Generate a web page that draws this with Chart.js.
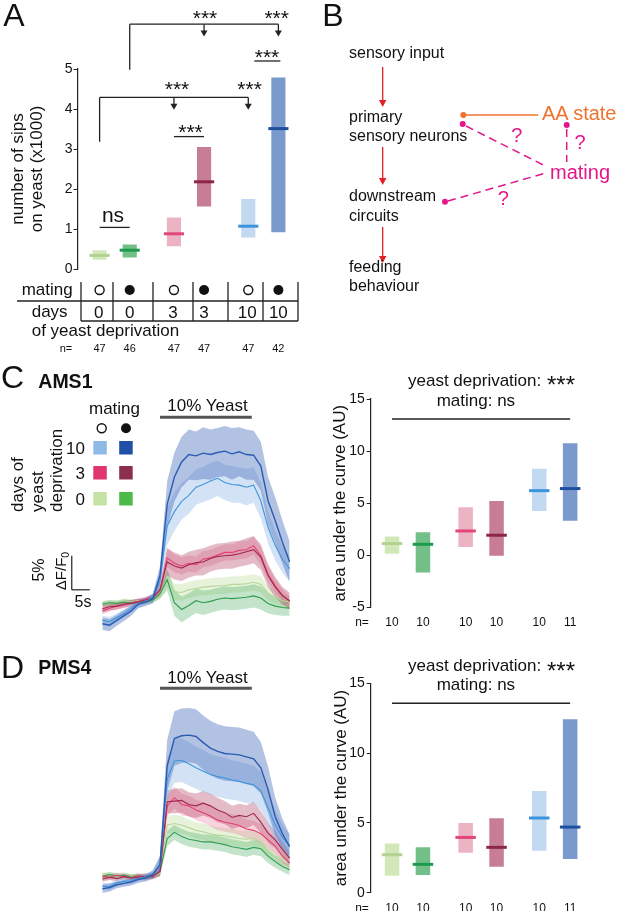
<!DOCTYPE html>
<html>
<head>
<meta charset="utf-8">
<script src="https://cdn.jsdelivr.net/npm/chart.js@4.4.1/dist/chart.umd.min.js"></script>
<style>
    html, body { margin: 0; padding: 0; background: #fff; }
    body { position: relative; width: 617px; height: 911px; overflow: hidden; font-family: 'Liberation Sans', Arial, sans-serif; color: #111; }
    .box { position: absolute; }
    .lbl { position: absolute; white-space: nowrap; line-height: 1; }
    svg { position: absolute; left: 0; top: 0; }
    sub { font-size: 0.7em; vertical-align: -0.3em; line-height: 0; }
</style>
</head>
<body>
<div class="box" style="left:0;top:0;width:310px;height:280px"><canvas id="chartA"></canvas></div>
<div class="box" style="left:66px;top:409px;width:224px;height:226px"><canvas id="tracesC"></canvas></div>
<div class="box" style="left:320px;top:370px;width:290px;height:260px"><canvas id="aucC"></canvas></div>
<div class="box" style="left:66px;top:680px;width:224px;height:219px"><canvas id="tracesD"></canvas></div>
<div class="box" style="left:320px;top:655px;width:290px;height:256px"><canvas id="aucD"></canvas></div>
<svg width="617" height="911" id="overlay"></svg>
<script>
// groups: days of yeast deprivation, virgin (open circle) vs mated (filled)
const days = ['0', '3', '10']

// A: number of sips on yeast (x1000)
const sipsVirginLow = [0.23, 0.57, 0.79]
const sipsVirginHigh = [0.47, 1.29, 1.75]
const sipsVirginMed = [0.34, 0.88, 1.07]
const sipsMatedLow = [0.29, 1.56, 0.92]
const sipsMatedHigh = [0.61, 3.05, 4.79]
const sipsMatedMed = [0.47, 2.18, 3.51]
const nSipsVirgin = [47, 47, 47]
const nSipsMated = [46, 47, 42]

// C: AMS1 area under the curve
const aucAmsVirginLow = [0.13, 0.8, 4.25]
const aucAmsVirginHigh = [1.8, 4.6, 8.3]
const aucAmsVirginMed = [1.12, 2.33, 6.2]
const aucAmsMatedLow = [-1.66, -0.06, 3.3]
const aucAmsMatedHigh = [2.2, 5.2, 10.75]
const aucAmsMatedMed = [1.05, 1.92, 6.4]
const nAmsVirgin = [10, 10, 10]
const nAmsMated = [10, 10, 11]

// D: PMS4 area under the curve
const aucPmsVirginLow = [1.22, 2.87, 3.01]
const aucPmsVirginHigh = [3.53, 4.99, 7.28]
const aucPmsVirginMed = [2.72, 3.96, 5.35]
const aucPmsMatedLow = [1.27, 1.86, 2.41]
const aucPmsMatedHigh = [3.25, 5.33, 12.42]
const aucPmsMatedMed = [2.03, 3.25, 4.7]
const nPmsVirgin = [10, 10, 10]
const nPmsMated = [10, 10, 11]

// traces: time (s, 0 = yeast on), dF/F0 (%) mean and sem
const time = [-16, -14, -12, -10, -8, -6, -4, -2, 0, 2, 4, 6, 8, 10, 12, 14, 16, 18, 20, 22, 24, 26, 28, 30, 32, 34, 36]
const stimulus = [0, 25.5]

const amsLightBlue = [-3.0, -3.2, -2.6, -2.0, -1.2, -0.6, -0.2, 0.4, 2.8, 10.9, 13.0, 14.5, 15.4, 16.6, 17.0, 17.5, 17.9, 17.3, 17.0, 16.9, 16.6, 16.9, 14.6, 10.7, 8.0, 6.0, 4.6]
const amsLightBlueSem = [0.7, 0.7, 0.6, 0.6, 0.6, 0.5, 0.5, 0.6, 1.2, 2.8, 2.8, 2.7, 2.7, 2.6, 2.6, 2.7, 2.6, 2.6, 2.7, 2.6, 2.7, 2.6, 2.6, 2.4, 2.2, 2.0, 1.9]
const amsBlue = [-3.5, -3.7, -3.0, -2.3, -1.6, -0.6, -0.3, 0.2, 3.6, 14.1, 18.1, 20.3, 21.4, 21.2, 21.6, 21.4, 21.7, 21.9, 21.5, 21.8, 21.4, 21.3, 19.7, 14.6, 11.7, 8.5, 5.6]
const amsBlueSem = [0.9, 0.9, 0.8, 0.8, 0.7, 0.6, 0.6, 0.7, 1.4, 3.4, 3.6, 3.7, 3.7, 3.6, 3.8, 3.7, 3.6, 3.7, 3.8, 3.6, 3.7, 3.6, 3.6, 3.5, 3.4, 3.2, 3.0]
const amsPink = [-1.6, -1.2, -0.9, -0.8, -0.4, -0.2, 0.1, 0.4, 1.5, 6.2, 5.4, 5.0, 5.4, 5.2, 6.0, 6.2, 6.6, 7.0, 7.0, 7.3, 7.4, 8.0, 6.5, 3.8, 2.1, 0.7, -0.2]
const amsPinkSem = [0.5, 0.5, 0.5, 0.4, 0.4, 0.4, 0.4, 0.4, 0.8, 1.4, 1.3, 1.3, 1.2, 1.2, 1.2, 1.2, 1.2, 1.2, 1.2, 1.3, 1.3, 1.3, 1.3, 1.2, 1.0, 0.9, 0.8]
const amsDarkRed = [-1.3, -1.0, -0.9, -0.6, -0.5, -0.3, 0.0, 0.3, 1.5, 5.6, 5.0, 4.7, 5.2, 5.5, 5.6, 6.1, 6.4, 6.5, 6.6, 6.8, 7.1, 7.4, 6.3, 3.6, 1.9, 0.6, -0.1]
const amsDarkRedSem = [0.6, 0.6, 0.5, 0.5, 0.5, 0.5, 0.4, 0.5, 0.9, 2.0, 2.0, 1.9, 1.9, 1.9, 2.0, 1.9, 1.9, 1.9, 2.0, 1.9, 2.0, 2.0, 1.9, 1.7, 1.5, 1.3, 1.2]
const amsLightGreen = [-0.6, -0.5, -0.4, -0.2, -0.3, -0.1, -0.2, 0.0, 0.8, 3.1, 1.2, 1.1, 1.5, 1.7, 1.9, 2.0, 2.1, 2.1, 2.3, 2.3, 2.4, 2.6, 2.3, 1.0, 0.4, -0.1, -0.3]
const amsLightGreenSem = [0.4, 0.4, 0.4, 0.4, 0.4, 0.3, 0.3, 0.4, 0.6, 1.2, 1.2, 1.2, 1.2, 1.2, 1.2, 1.2, 1.2, 1.2, 1.2, 1.2, 1.2, 1.2, 1.2, 1.1, 1.0, 0.9, 0.9]
const amsGreen = [-0.6, -0.4, -0.5, -0.3, -0.4, -0.2, -0.3, 0.0, 0.9, 3.0, -0.4, -1.4, -0.8, -0.1, -0.4, -0.2, 0.1, 0.3, 0.2, 0.3, 0.4, 0.6, 0.3, -0.5, -0.9, -1.1, -1.2]
const amsGreenSem = [0.4, 0.4, 0.4, 0.4, 0.4, 0.4, 0.3, 0.4, 0.7, 1.6, 1.9, 1.9, 1.8, 1.8, 1.8, 1.7, 1.7, 1.7, 1.7, 1.7, 1.7, 1.7, 1.7, 1.5, 1.3, 1.2, 1.1]

const pmsLightBlue = [-1.2, -1.3, -0.7, -0.5, -0.4, -0.1, 0.2, 0.6, 1.8, 14.5, 17.2, 17.3, 16.8, 16.2, 15.7, 15.2, 14.9, 14.7, 14.4, 14.2, 13.9, 13.7, 12.8, 10.3, 7.8, 6.0, 4.8]
const pmsLightBlueSem = [0.5, 0.5, 0.5, 0.5, 0.4, 0.4, 0.4, 0.5, 1.2, 3.0, 3.2, 3.2, 3.2, 3.1, 3.1, 3.0, 3.0, 3.0, 2.9, 2.9, 2.9, 2.8, 2.8, 2.5, 2.2, 1.9, 1.6]
const pmsBlue = [-1.6, -1.4, -1.0, -0.8, -0.6, -0.2, 0.0, 0.5, 2.0, 16.5, 20.5, 20.9, 21.0, 20.8, 19.9, 19.1, 18.6, 18.3, 18.2, 18.1, 17.8, 17.5, 16.2, 13.0, 9.0, 6.5, 4.6]
const pmsBlueSem = [0.6, 0.6, 0.5, 0.5, 0.5, 0.5, 0.5, 0.6, 1.3, 3.8, 4.0, 4.0, 4.0, 4.0, 4.0, 4.0, 4.0, 4.0, 4.0, 4.0, 4.0, 4.0, 3.8, 3.4, 2.8, 2.2, 1.8]
const pmsPink = [0.3, 0.1, 0.4, 0.2, 0.0, 0.3, 0.1, 0.3, 1.0, 10.6, 11.8, 10.8, 10.6, 10.0, 9.6, 9.1, 8.5, 8.2, 8.0, 7.7, 7.2, 7.0, 6.5, 5.6, 4.7, 3.2, 2.2]
const pmsPinkSem = [0.4, 0.4, 0.4, 0.4, 0.4, 0.4, 0.4, 0.4, 0.7, 1.6, 1.6, 1.6, 1.5, 1.5, 1.5, 1.5, 1.5, 1.4, 1.4, 1.4, 1.4, 1.4, 1.4, 1.3, 1.2, 1.0, 0.9]
const pmsDarkRed = [-0.2, 0.1, -0.1, 0.2, 0.0, 0.1, 0.3, 0.2, 1.0, 11.2, 11.3, 11.4, 10.8, 10.6, 11.0, 10.6, 10.0, 9.6, 8.9, 9.2, 9.0, 9.5, 8.2, 6.6, 5.6, 4.2, 2.9]
const pmsDarkRedSem = [0.4, 0.4, 0.4, 0.4, 0.4, 0.4, 0.4, 0.4, 0.7, 1.7, 1.8, 1.8, 1.8, 1.8, 1.8, 1.8, 1.8, 1.7, 1.7, 1.7, 1.7, 1.7, 1.6, 1.5, 1.3, 1.1, 1.0]
const pmsLightGreen = [0.5, 0.3, 0.2, 0.0, 0.3, 0.1, 0.3, 0.2, 0.8, 7.8, 8.0, 7.8, 7.4, 7.0, 6.8, 6.5, 6.3, 6.2, 6.0, 5.8, 5.7, 5.9, 5.2, 4.0, 3.2, 2.8, 2.4]
const pmsLightGreenSem = [0.4, 0.4, 0.4, 0.4, 0.4, 0.4, 0.4, 0.4, 0.6, 1.3, 1.3, 1.3, 1.2, 1.2, 1.2, 1.2, 1.2, 1.2, 1.2, 1.2, 1.2, 1.2, 1.1, 1.0, 0.9, 0.9, 0.8]
const pmsGreen = [0.2, 0.5, 0.3, 0.4, 0.1, 0.3, 0.0, 0.4, 0.9, 5.8, 6.7, 6.1, 5.7, 5.5, 5.3, 5.3, 5.1, 4.9, 4.6, 4.4, 4.2, 4.5, 4.3, 3.2, 2.4, 1.7, 1.2]
const pmsGreenSem = [0.4, 0.4, 0.4, 0.4, 0.4, 0.4, 0.4, 0.4, 0.6, 1.1, 1.1, 1.1, 1.1, 1.1, 1.1, 1.1, 1.1, 1.1, 1.1, 1.1, 1.1, 1.1, 1.1, 1.0, 0.9, 0.8, 0.8]

// colours, per group (0, 3, 10 days)
const virginFill = ['#d3e8b8', '#ecb3c2', '#c3d9f1']
const matedFill = ['#72c087', '#c77d97', '#7a9acd']
const virginMedColor = ['#b2d293', '#e2477a', '#3b95dd']
const matedMedColor = ['#1e9a4f', '#8c2549', '#1f4f9f']

Chart.defaults.font.family = "'Liberation Sans', Arial, sans-serif"
Chart.defaults.color = '#111'

function barX(chart, k) {
    return chart.getDatasetMeta(k % 2).data[Math.floor(k / 2)].x
}

function medianPlugin(virginMed, matedMed) {
    return {
        id: 'medians',
        afterDatasetsDraw(chart) {
            const ctx = chart.ctx
            const y = chart.scales.y
            ;[[virginMed, virginMedColor], [matedMed, matedMedColor]].forEach(([med, col], ds) => {
                chart.getDatasetMeta(ds).data.forEach((bar, i) => {
                    const py = y.getPixelForValue(med[i])
                    ctx.save()
                    ctx.strokeStyle = col[i]
                    ctx.lineWidth = 3
                    ctx.beginPath()
                    ctx.moveTo(bar.x - bar.width / 2 - 3, py)
                    ctx.lineTo(bar.x + bar.width / 2 + 3, py)
                    ctx.stroke()
                    ctx.restore()
                })
            })
        }
    }
}

function seg(ctx, x1, y1, x2, y2) {
    ctx.beginPath()
    ctx.moveTo(x1, y1)
    ctx.lineTo(x2, y2)
    ctx.stroke()
}

function arrowDown(ctx, x, y1, y2) {
    seg(ctx, x, y1, x, y2 - 4)
    ctx.beginPath()
    ctx.moveTo(x - 3.5, y2 - 6)
    ctx.lineTo(x + 3.5, y2 - 6)
    ctx.lineTo(x, y2)
    ctx.closePath()
    ctx.fill()
}

// significance brackets of panel A
const sigA = {
    id: 'sigA',
    afterDraw(chart) {
        const ctx = chart.ctx
        const py = v => chart.scales.y.getPixelForValue(v)
        const bx = k => barX(chart, k)
        ctx.save()
        ctx.strokeStyle = '#222'
        ctx.fillStyle = '#222'
        ctx.lineWidth = 1.3
        seg(ctx, bx(0), py(1.04), bx(1), py(1.04))
        seg(ctx, bx(2), py(3.31), bx(3), py(3.31))
        seg(ctx, bx(4) + 6, py(5.2), bx(5) + 2, py(5.2))
        seg(ctx, bx(0), py(3.18), bx(0), py(4.29))
        seg(ctx, bx(0), py(4.29), bx(4), py(4.29))
        arrowDown(ctx, bx(2), py(4.29), py(3.98))
        arrowDown(ctx, bx(4), py(4.29), py(3.98))
        seg(ctx, bx(1), py(4.98), bx(1), py(6.12))
        seg(ctx, bx(1), py(6.12), bx(5), py(6.12))
        arrowDown(ctx, bx(3), py(6.12), py(5.81))
        arrowDown(ctx, bx(5), py(6.12), py(5.81))
        ctx.restore()
    }
}

function groupLine(level) {
    return {
        id: 'groupLine',
        afterDraw(chart) {
            const ctx = chart.ctx
            const py = chart.scales.y.getPixelForValue(level)
            ctx.save()
            ctx.strokeStyle = '#222'
            ctx.lineWidth = 1.3
            seg(ctx, barX(chart, 0), py, barX(chart, 5), py)
            ctx.restore()
        }
    }
}

function rangeChart(id, v, m, o) {
    return new Chart(document.getElementById(id), {
        type: 'bar',
        data: {
            labels: days,
            datasets: [
                {
                    label: 'virgin',
                    data: v.low.map((lo, i) => [lo, v.high[i]]),
                    backgroundColor: virginFill,
                    categoryPercentage: o.cat,
                    barPercentage: o.bar
                },
                {
                    label: 'mated',
                    data: m.low.map((lo, i) => [lo, m.high[i]]),
                    backgroundColor: matedFill,
                    categoryPercentage: o.cat,
                    barPercentage: o.bar
                }
            ]
        },
        options: {
            animation: false,
            responsive: true,
            maintainAspectRatio: false,
            layout: { padding: o.padding },
            plugins: { legend: { display: false }, tooltip: { enabled: false } },
            scales: {
                x: { display: false },
                y: {
                    min: o.min,
                    max: o.max,
                    afterFit: s => { s.width = o.yWidth },
                    ticks: { stepSize: o.step, font: { size: 14 }, color: '#111', padding: o.tickPad },
                    grid: { drawOnChartArea: false, drawTicks: true, tickLength: 4, color: '#222' },
                    border: { display: true, color: '#222', width: 1.2 },
                    title: {
                        display: true,
                        text: o.title,
                        color: '#111',
                        font: { size: 17, lineHeight: 1.1 },
                        padding: { top: o.titlePad, bottom: 0 }
                    }
                }
            }
        },
        plugins: [medianPlugin(v.med, m.med)].concat(o.extra)
    })
}

function traceMarks(stimLevel, bar) {
    return {
        id: 'traceMarks',
        afterDraw(chart) {
            const ctx = chart.ctx
            const x = chart.scales.x
            const y = chart.scales.y
            ctx.save()
            ctx.strokeStyle = '#555'
            ctx.lineWidth = 3
            seg(ctx, x.getPixelForValue(stimulus[0]), y.getPixelForValue(stimLevel), x.getPixelForValue(stimulus[1]), y.getPixelForValue(stimLevel))
            if (bar) {
                ctx.strokeStyle = '#222'
                ctx.lineWidth = 1.2
                const x0 = x.getPixelForValue(bar.t)
                const y0 = y.getPixelForValue(bar.v)
                seg(ctx, x0, y.getPixelForValue(bar.v + bar.percent), x0, y0)
                seg(ctx, x0, y0, x.getPixelForValue(bar.t + bar.seconds), y0)
            }
            ctx.restore()
        }
    }
}

function traceChart(id, groups, yMin, yMax, extra) {
    const datasets = []
    groups.forEach(g => {
        datasets.push({
            data: time.map((t, i) => ({ x: t, y: g.mean[i] + g.sem[i] })),
            fill: '+1', backgroundColor: g.band, borderColor: 'rgba(0,0,0,0)', borderWidth: 0, pointRadius: 0, order: 1
        })
        datasets.push({
            data: time.map((t, i) => ({ x: t, y: g.mean[i] - g.sem[i] })),
            fill: false, borderColor: 'rgba(0,0,0,0)', borderWidth: 0, pointRadius: 0, order: 1
        })
    })
    groups.forEach(g => {
        datasets.push({
            data: time.map((t, i) => ({ x: t, y: g.mean[i] })),
            fill: false, borderColor: g.line, borderWidth: g.width, pointRadius: 0, order: 0
        })
    })
    return new Chart(document.getElementById(id), {
        type: 'line',
        data: { datasets },
        options: {
            animation: false,
            responsive: true,
            maintainAspectRatio: false,
            layout: { padding: 0 },
            plugins: { legend: { display: false }, tooltip: { enabled: false } },
            scales: {
                x: { type: 'linear', display: false, min: -26.1, max: 36.1 },
                y: { display: false, min: yMin, max: yMax }
            }
        },
        plugins: [extra]
    })
}

const traceStyle = {
    blue: { band: 'rgba(72,110,188,0.42)', line: '#2b5cb2', width: 1.4 },
    lightBlue: { band: 'rgba(150,188,232,0.42)', line: '#3d95dc', width: 1.1 },
    darkRed: { band: 'rgba(178,62,98,0.35)', line: '#a0294f', width: 1.1 },
    pink: { band: 'rgba(236,112,150,0.3)', line: '#e2416f', width: 1.1 },
    green: { band: 'rgba(82,176,102,0.35)', line: '#2e9d4f', width: 1.1 },
    lightGreen: { band: 'rgba(192,226,162,0.4)', line: '#b5d79a', width: 1.1 }
}

function groupsOf(b, bs, lb, lbs, dr, drs, pk, pks, g, gs, lg, lgs) {
    return [
        Object.assign({ mean: b, sem: bs }, traceStyle.blue),
        Object.assign({ mean: lb, sem: lbs }, traceStyle.lightBlue),
        Object.assign({ mean: dr, sem: drs }, traceStyle.darkRed),
        Object.assign({ mean: pk, sem: pks }, traceStyle.pink),
        Object.assign({ mean: g, sem: gs }, traceStyle.green),
        Object.assign({ mean: lg, sem: lgs }, traceStyle.lightGreen)
    ]
}

// ---- charts
const chartA = rangeChart('chartA',
    { low: sipsVirginLow, high: sipsVirginHigh, med: sipsVirginMed },
    { low: sipsMatedLow, high: sipsMatedHigh, med: sipsMatedMed },
    {
        min: 0, max: 5, step: 1, yWidth: 77.5, tickPad: 1, titlePad: 9,
        padding: { top: 69, bottom: 11, right: 9.5, left: 0 },
        cat: 0.81, bar: 0.47,
        title: ['number of sips', 'on yeast (x1000)'],
        extra: [sigA]
    })

const scaleBar = { t: -24.5, v: 1.5, seconds: 5, percent: 5 }

traceChart('tracesC', groupsOf(amsBlue, amsBlueSem, amsLightBlue, amsLightBlueSem, amsDarkRed, amsDarkRedSem,
    amsPink, amsPinkSem, amsGreen, amsGreenSem, amsLightGreen, amsLightGreenSem), -5.15, 28.1, traceMarks(26.87, scaleBar))

traceChart('tracesD', groupsOf(pmsBlue, pmsBlueSem, pmsLightBlue, pmsLightBlueSem, pmsDarkRed, pmsDarkRedSem,
    pmsPink, pmsPinkSem, pmsGreen, pmsGreenSem, pmsLightGreen, pmsLightGreenSem), -3.09, 29.1, traceMarks(27.9, null))

const chartC = rangeChart('aucC',
    { low: aucAmsVirginLow, high: aucAmsVirginHigh, med: aucAmsVirginMed },
    { low: aucAmsMatedLow, high: aucAmsMatedHigh, med: aucAmsMatedMed },
    {
        min: -5, max: 15, step: 5, yWidth: 50.7, tickPad: 2, titlePad: 10.6,
        padding: { top: 29, bottom: 22.7, right: 18.5, left: 0 },
        cat: 0.84, bar: 0.47,
        title: 'area under the curve (AU)',
        extra: [groupLine(13.08)]
    })

const chartD = rangeChart('aucD',
    { low: aucPmsVirginLow, high: aucPmsVirginHigh, med: aucPmsVirginMed },
    { low: aucPmsMatedLow, high: aucPmsMatedHigh, med: aucPmsMatedMed },
    {
        min: 0, max: 15, step: 5, yWidth: 50.7, tickPad: 2, titlePad: 12.3,
        padding: { top: 28.3, bottom: 18.3, right: 18.5, left: 0 },
        cat: 0.84, bar: 0.47,
        title: 'area under the curve (AU)',
        extra: [groupLine(13.57)]
    })

// ---- text
function put(text, x, y, o = {}) {
    const d = document.createElement('div')
    d.className = 'lbl'
    d.innerHTML = text
    d.style.left = x + 'px'
    d.style.top = y + 'px'
    d.style.fontSize = (o.size || 17) + 'px'
    if (o.color) d.style.color = o.color
    if (o.bold) d.style.fontWeight = 'bold'
    if (o.rotStart) {
        d.style.transformOrigin = '0 0'
        d.style.transform = 'rotate(-90deg) translate(0, -50%)'
    } else {
        const ax = o.align === 'left' ? '0' : o.align === 'right' ? '-100%' : '-50%'
        d.style.transform = 'translate(' + ax + ', -50%)' + (o.rotate ? ' rotate(-90deg)' : '')
    }
    document.body.appendChild(d)
}

function stars(x, y, size) {
    put('***', x, y + 0.2265 * size, { size })
}

function nRow(chart, left, y, nV, nM, size, nx) {
    put('n=', nx, y, { size })
    nV.forEach((n, i) => put(String(n), left + chart.getDatasetMeta(0).data[i].x, y, { size }))
    nM.forEach((n, i) => put(String(n), left + chart.getDatasetMeta(1).data[i].x, y, { size }))
}

// A
put('A', 14, 15, { size: 32 })
put('ns', 113, 214.2, { size: 21 })
stars(205, 12.3, 21)
stars(276.7, 12.3, 21)
stars(267, 51.7, 21)
stars(177, 83, 21)
stars(249.6, 83, 21)
stars(190.5, 126.7, 21)
put('mating', 21.7, 288.5, { align: 'left' })
put('days', 31.7, 310.5, { align: 'left' })
days.forEach((d, i) => {
    put(d, chartA.getDatasetMeta(0).data[i].x - 1, 311.7)
    put(d, chartA.getDatasetMeta(1).data[i].x, 311.7)
})
put('of yeast deprivation', 31.7, 330, { align: 'left' })
nRow(chartA, 0, 347.5, nSipsVirgin, nSipsMated, 11, 66)

// B
put('B', 333, 15, { size: 32 })
put('sensory input', 349, 52.6, { align: 'left', size: 16 })
put('primary', 349, 116.8, { align: 'left', size: 16 })
put('sensory neurons', 349, 135.8, { align: 'left', size: 16 })
put('downstream', 349, 196, { align: 'left', size: 16 })
put('circuits', 349, 216, { align: 'left', size: 16 })
put('feeding', 349, 266.6, { align: 'left', size: 16 })
put('behaviour', 349, 286, { align: 'left', size: 16 })
put('AA state', 542, 113, { align: 'left', size: 20, color: '#f0722f' })
put('mating', 550, 171.5, { align: 'left', size: 20, color: '#e3178b' })
put('?', 516.7, 135, { size: 20, color: '#e3178b' })
put('?', 580, 141.7, { size: 20, color: '#e3178b' })
put('?', 503.3, 198.3, { size: 20, color: '#e3178b' })

// C
put('C', 12.5, 377, { size: 32 })
put('AMS1', 38.3, 382, { align: 'left', size: 19.5, bold: true })
put('10% Yeast', 207.5, 405)
put('mating', 89, 408, { align: 'left' })
put('10', 85, 448, { align: 'right' })
put('3', 85, 473, { align: 'right' })
put('0', 85, 498.5, { align: 'right' })
put('days of', 17, 512, { rotStart: true })
put('yeast', 36.5, 512, { rotStart: true })
put('deprivation', 56, 512, { rotStart: true })
put('5%', 39, 570, { rotate: true, size: 16 })
put('\u0394F/F<sub>0</sub>', 60, 571, { rotate: true, size: 15 })
put('5s', 83, 601.7, { size: 16 })
put('yeast deprivation:', 408, 380, { align: 'left' })
stars(561, 380, 24)
put('mating: ns', 436.7, 400, { align: 'left' })
nRow(chartC, 320, 621.7, nAmsVirgin, nAmsMated, 12, 362)

// D
put('D', 12.5, 666.5, { size: 32 })
put('PMS4', 38.3, 668.3, { align: 'left', size: 19.5, bold: true })
put('10% Yeast', 207.5, 677)
put('yeast deprivation:', 408, 664.5, { align: 'left' })
stars(561, 666, 24)
put('mating: ns', 436.7, 684, { align: 'left' })
nRow(chartD, 320, 907.5, nPmsVirgin, nPmsMated, 12, 362)

// ---- lines and symbols outside the plots
const svg = document.getElementById('overlay')
const ink = '#222'
const red = '#e31e24'
const orange = '#f0722f'
const magenta = '#e3178b'
let s = ''
s += `<g stroke="${ink}" stroke-width="1.3">`
s += '<line x1="17" y1="301" x2="298" y2="301"/><line x1="81" y1="321" x2="298" y2="321"/>'
;[81, 113, 153, 193, 228, 263, 298].forEach(x => { s += `<line x1="${x}" y1="282" x2="${x}" y2="321"/>` })
s += '</g>'
;[0, 1, 2].forEach(i => {
    const xv = chartA.getDatasetMeta(0).data[i].x
    const xm = chartA.getDatasetMeta(1).data[i].x
    s += `<circle cx="${xv}" cy="290" r="4.5" fill="none" stroke="#111" stroke-width="1.4"/>`
    s += `<circle cx="${xm}" cy="290" r="5" fill="#111"/>`
})
// B flow
;[[67, 107], [147, 185], [227, 263]].forEach(([a, b]) => {
    s += `<line x1="382.7" y1="${a}" x2="382.7" y2="${b - 5}" stroke="${red}" stroke-width="1.3"/>`
    s += `<polygon points="379,${b - 7} 386.4,${b - 7} 382.7,${b}" fill="${red}"/>`
})
s += `<circle cx="463.3" cy="115" r="3" fill="${orange}"/><line x1="463.3" y1="115" x2="538.3" y2="115" stroke="${orange}" stroke-width="1.5"/>`
s += `<g stroke="${magenta}" stroke-width="1.5" stroke-dasharray="8 5">`
s += '<line x1="466" y1="126" x2="546.7" y2="166.7"/><line x1="566.7" y1="129" x2="566.7" y2="162"/><line x1="448" y1="201" x2="545" y2="173.3"/></g>'
s += `<g fill="${magenta}"><circle cx="462.7" cy="124" r="3"/><circle cx="566.7" cy="125" r="3"/><circle cx="445" cy="201.7" r="3"/></g>`
// C legend
s += '<circle cx="101.7" cy="428.3" r="4.5" fill="none" stroke="#111" stroke-width="1.4"/><circle cx="126" cy="428.3" r="5" fill="#111"/>'
const legendRows = [[441, '#8fbae6', '#1f4fa6'], [466, '#e0356f', '#8e2e4e'], [492, '#c6e3a6', '#4dbb4a']]
legendRows.forEach(([y, a, b]) => {
    s += `<rect x="93.3" y="${y}" width="13.5" height="13.5" fill="${a}"/><rect x="119.2" y="${y}" width="13.5" height="13.5" fill="${b}"/>`
})
svg.innerHTML = s
</script>
</body>
</html>
